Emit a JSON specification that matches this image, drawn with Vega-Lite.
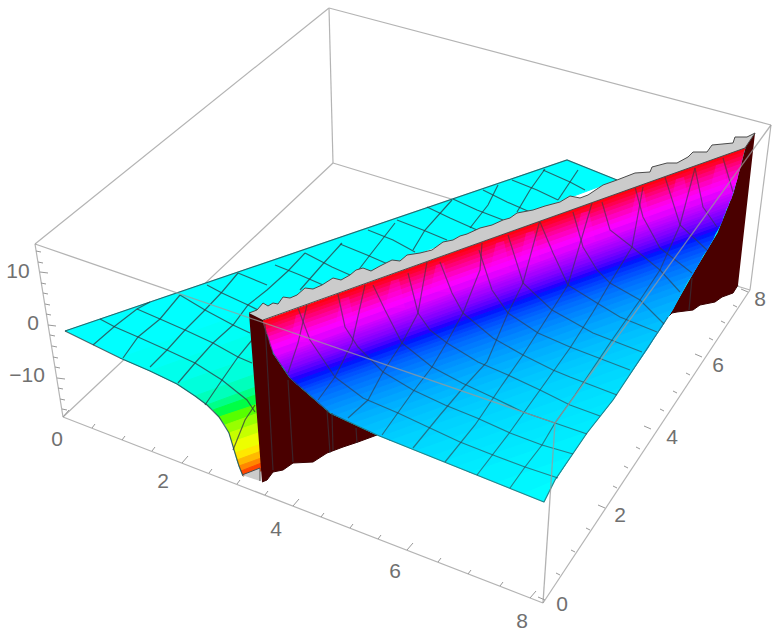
{"$schema":"https://vega.github.io/schema/vega-lite/v6.json","width":780,"height":637,"padding":0,"autosize":"none","background":"white","config":{"view":{"stroke":null}},
"datasets":{
"boxBack":[
{"id":"a","x":[35,329],"y":[244,8]},{"id":"b","x":[329,771],"y":[8,125]},{"id":"c","x":[329,333],"y":[8,163]},{"id":"d","x":[333,63],"y":[163,417]},{"id":"e","x":[333,750],"y":[163,290]},{"id":"f","x":[771,750],"y":[125,290]},{"id":"g","x":[35,63],"y":[244,417]},{"id":"h","x":[63,543],"y":[417,603]},{"id":"i","x":[543,750],"y":[603,290]}],
"boxFront":[{"id":"a","x":[35,555],"y":[244,423]},{"id":"b","x":[555,771],"y":[423,125]},{"id":"c","x":[555,543],"y":[423,603]}],
"leftFill":[
{"id":"b0","z":0,"x":[65,567,617,249,262,243,241,239,237,235,232,229,225,219,213,207,195,177,150,120],"y":[331,160,180,316,470,476,471,466,460,453,442,433,425,417,410,405,396,384,371,358]},
{"id":"q1","z":-0.35,"x":[120,256,256,150],"y":[358,309,333,371]},
{"id":"q2","z":-0.7,"x":[150,256,256,177],"y":[371,333,356,384]},
{"id":"q3","z":-1.15,"x":[177,256,256,195],"y":[384,356,374,396]},
{"id":"q4","z":-1.85,"x":[195,256,264,207],"y":[396,374,384,405]},
{"id":"q5","z":-2.75,"x":[207,264,264,213],"y":[405,384,392,410]},
{"id":"q6","z":-3.6,"x":[213,264,264,219],"y":[410,392,402,417]},
{"id":"q7","z":-4.5,"x":[219,264,264,225],"y":[417,402,411,425]},
{"id":"q8","z":-5.5,"x":[225,264,264,229],"y":[425,411,421,433]},
{"id":"q9","z":-6.5,"x":[229,264,264,232],"y":[433,421,431,442]},
{"id":"q10","z":-7.5,"x":[232,264,264,235],"y":[442,431,443,453]},
{"id":"q11","z":-8.5,"x":[235,264,264,237],"y":[453,443,450,460]},
{"id":"q12","z":-9.5,"x":[237,264,264,239],"y":[460,450,457,466]},
{"id":"q13","z":-10.5,"x":[239,264,264,241],"y":[466,457,462,471]},
{"id":"q14","z":-11.5,"x":[241,264,264,243],"y":[471,462,470,476]}],
"leftGrid":[
{"id":"e1","x":[65,567,617],"y":[331,160,180]},
{"id":"e2","x":[65,120,150,177,195,207,219,229,235,239,243],"y":[331,358,371,384,396,405,417,433,453,466,476]},
{"id":"a","x":[100,115,138,167,195,222,247,255],"y":[319,327,337,350,363,380,400,412]},
{"id":"b","x":[137,160,185,213,238,252],"y":[309,319,330,343,357,363]},
{"id":"c","x":[180,205,233,250],"y":[295,310,325,333]},
{"id":"d","x":[207,222,248,262],"y":[285,293,305,312]},
{"id":"e","x":[238,267],"y":[273,285]},
{"id":"e3","x":[275,300,323],"y":[265,275,285]},
{"id":"f","x":[305,332,350],"y":[253,267,275]},
{"id":"g","x":[340,367,390],"y":[244,255,265]},
{"id":"h","x":[368,393,415],"y":[230,240,252]},
{"id":"i","x":[397,423,447],"y":[220,230,240]},
{"id":"j","x":[427,450,477],"y":[207,218,230]},
{"id":"k","x":[453,477,503],"y":[199,210,220]},
{"id":"l","x":[483,507,530],"y":[190,202,212]},
{"id":"m","x":[512,537,558],"y":[180,190,200]},
{"id":"n","x":[543,570,585],"y":[170,182,190]},
{"id":"p","x":[93,115,137,150],"y":[345,326,309,302]},
{"id":"q","x":[123,138,160,180],"y":[358,337,319,295]},
{"id":"r","x":[150,167,185,203,222,238],"y":[367,350,330,312,292,273]},
{"id":"s","x":[178,195,213,233,248,267,288,305],"y":[383,363,343,325,305,290,271,253]},
{"id":"t","x":[205,222,238,252],"y":[405,380,357,340]},
{"id":"t2","x":[300,322,342],"y":[290,265,243]},
{"id":"u","x":[233,245,255],"y":[450,420,405]},
{"id":"u2","x":[357,370,395],"y":[272,255,223]},
{"id":"v","x":[413,425,452],"y":[250,230,200]},
{"id":"w","x":[470,488,498],"y":[228,205,185]},
{"id":"x","x":[517,530,545],"y":[212,190,169]},
{"id":"y","x":[558,570,578],"y":[200,182,170]}],
"walls":[
{"id":"w1","x":[249,263,273,290,330,377,358,343,327,313,293,283,273,267,262],"y":[313,320,353,378,413,435,442,447,453,462,463,470,472,480,482]},
{"id":"w2","x":[755,745,733,717,693,668,672,677,685,693,700,715,722,733,738],"y":[133,148,193,233,273,317,313,312,311,310,305,302,297,293,285]}],
"rightFill":[
{"id":"b","z":0.05,"x":[263,745,733,717,693,668,613,587,555,544,377,330,290,273],"y":[322,148,193,233,273,317,400,433,480,502,435,413,378,353]},
{"id":"r1","z":0.2,"x":[523,556,571,496],"y":[493,479,456,482]},
{"id":"r2","z":0.36,"x":[496,571,588,469],"y":[482,456,431,472]},
{"id":"r3","z":0.5,"x":[469,588,600,456],"y":[472,431,416,466]},
{"id":"r3b","z":0.6,"x":[456,600,612,443],"y":[466,416,401,461]},
{"id":"r4","z":0.7,"x":[443,612,621,430],"y":[461,401,387,456]},
{"id":"r4b","z":0.81,"x":[430,621,630,416],"y":[456,387,374,450]},
{"id":"r5","z":0.94,"x":[416,630,639,403],"y":[450,374,361,445]},
{"id":"r5b","z":1.06,"x":[403,639,648,389],"y":[445,361,348,440]},
{"id":"r6","z":1.19,"x":[389,648,654,380],"y":[440,348,338,436]},
{"id":"r6b","z":1.32,"x":[380,654,661,370],"y":[436,338,328,432]},
{"id":"r7","z":1.47,"x":[370,661,667,361],"y":[432,328,318,427]},
{"id":"r7b","z":1.63,"x":[361,667,673,352],"y":[427,318,309,423]},
{"id":"r8","z":1.81,"x":[352,673,678,343],"y":[423,309,299,419]},
{"id":"r8b","z":2.0,"x":[343,678,683,334],"y":[419,299,290,415]},
{"id":"r9","z":2.2,"x":[334,683,687,328],"y":[415,290,282,411]},
{"id":"r9b","z":2.4,"x":[328,687,692,323],"y":[411,282,275,407]},
{"id":"r10","z":2.6,"x":[323,692,696,318],"y":[407,275,268,403]},
{"id":"r10b","z":2.8,"x":[318,696,700,314],"y":[403,268,261,399]},
{"id":"r11","z":3.0,"x":[314,700,703,310],"y":[399,261,255,395]},
{"id":"r11b","z":3.2,"x":[310,703,707,306],"y":[395,255,250,392]},
{"id":"r12","z":3.4,"x":[306,707,710,303],"y":[392,250,244,389]},
{"id":"r12b","z":3.6,"x":[303,710,713,300],"y":[389,244,239,387]},
{"id":"r13","z":3.78,"x":[300,713,715,296],"y":[387,239,234,384]},
{"id":"r13b","z":3.93,"x":[296,715,718,293],"y":[384,234,229,381]},
{"id":"r14","z":4.1,"x":[293,718,720,290],"y":[381,229,225,378]},
{"id":"r14b","z":4.35,"x":[290,720,722,288],"y":[378,225,221,375]},
{"id":"r15","z":4.65,"x":[288,722,723,286],"y":[375,221,217,372]},
{"id":"r15b","z":4.95,"x":[286,723,725,285],"y":[372,217,213,370]},
{"id":"r16","z":5.25,"x":[285,725,726,283],"y":[370,213,209,367]},
{"id":"r16b","z":5.55,"x":[283,726,728,281],"y":[367,209,206,365]},
{"id":"r17","z":5.85,"x":[281,728,729,279],"y":[365,206,202,362]},
{"id":"r17b","z":6.15,"x":[279,729,731,278],"y":[362,202,199,360]},
{"id":"r18","z":6.45,"x":[278,731,732,276],"y":[360,199,195,358]},
{"id":"r18b","z":6.75,"x":[276,732,733,275],"y":[358,195,192,356]},
{"id":"r19","z":7.25,"x":[275,733,735,272],"y":[356,192,185,350]},
{"id":"r20","z":7.85,"x":[272,735,737,270],"y":[350,185,179,345]},
{"id":"r21","z":8.4,"x":[270,737,738,269],"y":[345,179,174,341]},
{"id":"r22","z":9.0,"x":[269,738,740,268],"y":[341,174,168,336]},
{"id":"r23","z":9.6,"x":[268,740,741,266],"y":[336,168,163,333]},
{"id":"r24","z":10.2,"x":[266,741,742,265],"y":[333,163,159,329]},
{"id":"r25","z":10.85,"x":[265,742,743,264],"y":[329,159,155,326]},
{"id":"r26","z":11.45,"x":[264,743,744,263],"y":[326,155,151,323]},
{"id":"r27","z":11.85,"x":[263,744,745,263],"y":[323,151,148,321]}],
"streaks":[
{"id":"s1","x":[296,304,308,290],"y":[315,313,342,342]},
{"id":"s2","x":[341,349,355,335],"y":[299,297,326,326]},
{"id":"s3","x":[391,399,405,385],"y":[281,279,308,308]},
{"id":"s4","x":[436,444,450,430],"y":[265,263,292,292]},
{"id":"s5","x":[496,504,510,490],"y":[243,241,270,270]},
{"id":"s6","x":[526,534,540,520],"y":[233,231,260,260]},
{"id":"s7","x":[581,589,595,575],"y":[213,211,240,240]},
{"id":"s8","x":[636,644,650,630],"y":[193,191,220,220]},
{"id":"s9","x":[676,684,690,670],"y":[179,177,206,206]},
{"id":"s10","x":[716,724,728,710],"y":[165,163,190,190]}],
"rightGrid":[
{"id":"e1","x":[377,544,555,587,613,668],"y":[435,502,480,433,400,317]},
{"id":"e2","x":[263,273,290,330,377],"y":[322,353,378,413,435]},
{"id":"y1","x":[288,298,307],"y":[373,343,305]},
{"id":"y2","x":[318,335,352,365],"y":[400,377,343,285]},
{"id":"y3","x":[348,368,383,402,418,427],"y":[418,400,372,343,313,262]},
{"id":"y4","x":[382,412,432,447,463,480,482],"y":[435,393,367,342,313,270,243]},
{"id":"y5","x":[413,440,463,487,508,523,540],"y":[448,415,388,362,313,283,220]},
{"id":"y6","x":[445,475,500,523,552,568,592],"y":[462,425,388,355,310,285,203]},
{"id":"y7","x":[477,510,540,570,593,610,632,643],"y":[475,432,390,348,312,283,247,187]},
{"id":"y8","x":[510,525,542,555,575,612,640,660,680,695],"y":[488,467,445,423,395,340,300,270,225,168]},
{"id":"x1","x":[298,310,335,363,398,430,460,493,525,558],"y":[308,340,377,398,413,428,442,455,467,478]},
{"id":"x2","x":[337,345,358,383,413,445,477,510,542,573],"y":[290,327,347,372,390,405,418,433,445,454]},
{"id":"x3","x":[373,385,402,432,462,492,523,555,587],"y":[285,310,343,367,383,397,412,423,434]},
{"id":"x4","x":[408,418,430,447,478,508,540,570,600],"y":[273,313,330,343,362,375,390,405,416]},
{"id":"x5","x":[440,452,463,493,523,553,570,617],"y":[262,293,313,338,355,370,377,395]},
{"id":"x6","x":[479,492,508,538,570,630],"y":[250,290,313,333,347,370]},
{"id":"x7","x":[508,523,552,593,642],"y":[235,283,310,333,352]},
{"id":"x8","x":[540,553,568,597,620,657],"y":[222,253,285,303,317,332]},
{"id":"x9","x":[573,583,597,610,640,664],"y":[212,247,270,283,300,324]},
{"id":"x10","x":[602,610,632,660,680],"y":[202,230,247,270,292]},
{"id":"x11","x":[635,643,660,692],"y":[187,217,248,273]},
{"id":"x12","x":[665,680,707],"y":[177,225,250]},
{"id":"x13","x":[695,703,717],"y":[168,207,227]},
{"id":"x14","x":[723,733],"y":[158,192]},
{"id":"v1","x":[265,273],"y":[323,470]},
{"id":"v2","x":[288,293],"y":[380,462]},
{"id":"v3","x":[327,330],"y":[410,453]},
{"id":"v4","x":[332,333],"y":[413,450]},
{"id":"v5","x":[356,357],"y":[428,443]},
{"id":"v6","x":[692,689],"y":[278,310]}],
"gray":[
{"id":"top","x":[249,257,263,268,273,278,283,290,297,305,313,322,333,341,350,356,363,371,380,392,400,407,420,432,443,453,460,467,480,492,503,510,517,533,545,560,570,580,588,603,617,635,650,652,667,677,688,693,707,712,733,735,747,755,745,263],"y":[313,310,303,306,303,304,297,298,295,288,289,285,278,280,275,270,268,271,266,260,261,255,253,250,242,240,236,234,228,225,220,218,213,210,206,202,196,198,195,185,180,173,172,167,163,163,157,152,152,145,143,137,137,133,148,320]},
{"id":"foot","x":[242,260,260],"y":[475,468,481]}],
"ticks":[
{"id":"x0","x":[63,69],"y":[417,410]},{"id":"x1","x":[92,95],"y":[428,424]},{"id":"x2","x":[122,125],"y":[440,436]},{"id":"x3","x":[152,155],"y":[451,447]},{"id":"x4","x":[182,188],"y":[463,456]},{"id":"x5","x":[209,212],"y":[473,469]},{"id":"x6","x":[237,240],"y":[484,480]},{"id":"x7","x":[265,268],"y":[495,491]},{"id":"x8","x":[293,299],"y":[506,499]},{"id":"x9","x":[321,324],"y":[517,513]},{"id":"x10","x":[350,353],"y":[528,524]},{"id":"x11","x":[378,381],"y":[539,535]},{"id":"x12","x":[407,413],"y":[550,543]},{"id":"x13","x":[438,441],"y":[562,558]},{"id":"x14","x":[468,471],"y":[574,570]},{"id":"x15","x":[500,503],"y":[586,582]},{"id":"x16","x":[530,536],"y":[598,591]},
{"id":"y0","x":[545,538],"y":[600,597]},{"id":"y1","x":[560,556],"y":[575,573]},{"id":"y2","x":[575,571],"y":[552,550]},{"id":"y3","x":[590,586],"y":[530,528]},{"id":"y4","x":[605,598],"y":[508,505]},{"id":"y5","x":[617,613],"y":[488,486]},{"id":"y6","x":[628,624],"y":[468,466]},{"id":"y7","x":[640,636],"y":[449,447]},{"id":"y8","x":[651,644],"y":[429,426]},{"id":"y9","x":[664,660],"y":[411,409]},{"id":"y10","x":[677,673],"y":[393,391]},{"id":"y11","x":[690,686],"y":[375,373]},{"id":"y12","x":[702,695],"y":[357,354]},{"id":"y13","x":[713,709],"y":[340,338]},{"id":"y14","x":[725,721],"y":[323,321]},{"id":"y15","x":[737,733],"y":[307,305]},{"id":"y16","x":[748,741],"y":[292,289]},
{"id":"z0","x":[36,41],"y":[251,252]},{"id":"z1","x":[38,43],"y":[262,263]},{"id":"z2","x":[40,48],"y":[272,273]},{"id":"z3","x":[41,46],"y":[283,284]},{"id":"z4","x":[43,48],"y":[293,294]},{"id":"z5","x":[45,50],"y":[304,305]},{"id":"z6","x":[46,51],"y":[314,315]},{"id":"z7","x":[48,56],"y":[325,326]},{"id":"z8","x":[50,55],"y":[335,336]},{"id":"z9","x":[52,57],"y":[346,347]},{"id":"z10","x":[53,58],"y":[357,358]},{"id":"z11","x":[55,60],"y":[367,368]},{"id":"z12","x":[57,65],"y":[378,379]},{"id":"z13","x":[58,63],"y":[388,389]},{"id":"z14","x":[60,65],"y":[399,400]},{"id":"z15","x":[62,67],"y":[409,410]}],
"labels":[
{"t":"0","x":57,"y":440},{"t":"2","x":163,"y":482},{"t":"4","x":276,"y":530},{"t":"6","x":395,"y":572},{"t":"8","x":522,"y":622},
{"t":"0","x":562,"y":605},{"t":"2","x":620,"y":516},{"t":"4","x":672,"y":438},{"t":"6","x":718,"y":366},{"t":"8","x":760,"y":300},
{"t":"10","x":18,"y":272},{"t":"0","x":33,"y":324},{"t":"−10","x":27,"y":376}]
},
"layer":[
{"data":{"name":"boxBack"},"transform":[{"flatten":["x","y"]}],"mark":{"type":"line","strokeWidth":1.2},"encoding":{"x":{"field":"x","type":"quantitative","scale":{"domain":[0,780]},"axis":null},"y":{"field":"y","type":"quantitative","scale":{"domain":[637,0]},"axis":null},"detail":{"field":"id"},"order":{"value":null},"color":{"value":"#b4b4b4"}}},
{"data":{"name":"leftFill"},"transform":[{"flatten":["x","y"]}],"mark":{"type":"line","strokeWidth":1},"encoding":{"x":{"field":"x","type":"quantitative","scale":{"domain":[0,780]},"axis":null},"y":{"field":"y","type":"quantitative","scale":{"domain":[637,0]},"axis":null},"detail":{"field":"id"},"order":{"value":null},
"fill":{"field":"z","type":"quantitative","legend":null,"scale":{"domain":[-12,-8,-4,0,4,8,12],"range":["#ff0000","#ffff00","#00ff00","#00ffff","#0000ff","#ff00ff","#ff0000"]}},
"stroke":{"field":"z","type":"quantitative","legend":null,"scale":{"domain":[-12,-8,-4,0,4,8,12],"range":["#ff0000","#ffff00","#00ff00","#00ffff","#0000ff","#ff00ff","#ff0000"]}}}},
{"data":{"name":"leftGrid"},"transform":[{"flatten":["x","y"]}],"mark":{"type":"line","strokeWidth":1.2,"opacity":0.75},"encoding":{"x":{"field":"x","type":"quantitative","scale":{"domain":[0,780]},"axis":null},"y":{"field":"y","type":"quantitative","scale":{"domain":[637,0]},"axis":null},"detail":{"field":"id"},"order":{"value":null},"color":{"value":"#2f3a40"}}},
{"data":{"name":"walls"},"transform":[{"flatten":["x","y"]}],"mark":{"type":"line","strokeWidth":1},"encoding":{"x":{"field":"x","type":"quantitative","scale":{"domain":[0,780]},"axis":null},"y":{"field":"y","type":"quantitative","scale":{"domain":[637,0]},"axis":null},"detail":{"field":"id"},"order":{"value":null},"fill":{"value":"#4a0000"},"stroke":{"value":"#3a0000"}}},
{"data":{"name":"rightFill"},"transform":[{"flatten":["x","y"]}],"mark":{"type":"line","strokeWidth":1},"encoding":{"x":{"field":"x","type":"quantitative","scale":{"domain":[0,780]},"axis":null},"y":{"field":"y","type":"quantitative","scale":{"domain":[637,0]},"axis":null},"detail":{"field":"id"},"order":{"value":null},
"fill":{"field":"z","type":"quantitative","legend":null,"scale":{"domain":[-12,-8,-4,0,4,8,12],"range":["#ff0000","#ffff00","#00ff00","#00ffff","#0000ff","#ff00ff","#ff0000"]}},
"stroke":{"field":"z","type":"quantitative","legend":null,"scale":{"domain":[-12,-8,-4,0,4,8,12],"range":["#ff0000","#ffff00","#00ff00","#00ffff","#0000ff","#ff00ff","#ff0000"]}}}},
{"data":{"name":"streaks"},"transform":[{"flatten":["x","y"]}],"mark":{"type":"line","strokeWidth":0,"opacity":0.3},"encoding":{"x":{"field":"x","type":"quantitative","scale":{"domain":[0,780]},"axis":null},"y":{"field":"y","type":"quantitative","scale":{"domain":[637,0]},"axis":null},"detail":{"field":"id"},"order":{"value":null},"fill":{"value":"#ff00ff"}}},
{"data":{"name":"rightGrid"},"transform":[{"flatten":["x","y"]}],"mark":{"type":"line","strokeWidth":1.2,"opacity":0.6},"encoding":{"x":{"field":"x","type":"quantitative","scale":{"domain":[0,780]},"axis":null},"y":{"field":"y","type":"quantitative","scale":{"domain":[637,0]},"axis":null},"detail":{"field":"id"},"order":{"value":null},"color":{"value":"#333a44"}}},
{"data":{"name":"gray"},"transform":[{"flatten":["x","y"]}],"mark":{"type":"line","strokeWidth":1},"encoding":{"x":{"field":"x","type":"quantitative","scale":{"domain":[0,780]},"axis":null},"y":{"field":"y","type":"quantitative","scale":{"domain":[637,0]},"axis":null},"detail":{"field":"id"},"order":{"value":null},"fill":{"value":"#cbcbcb"},"stroke":{"value":"#4a4a4a"}}},
{"data":{"name":"boxFront"},"transform":[{"flatten":["x","y"]}],"mark":{"type":"line","strokeWidth":1.3,"opacity":0.75},"encoding":{"x":{"field":"x","type":"quantitative","scale":{"domain":[0,780]},"axis":null},"y":{"field":"y","type":"quantitative","scale":{"domain":[637,0]},"axis":null},"detail":{"field":"id"},"order":{"value":null},"color":{"value":"#9a9a9a"}}},
{"data":{"name":"ticks"},"transform":[{"flatten":["x","y"]}],"mark":{"type":"line","strokeWidth":1},"encoding":{"x":{"field":"x","type":"quantitative","scale":{"domain":[0,780]},"axis":null},"y":{"field":"y","type":"quantitative","scale":{"domain":[637,0]},"axis":null},"detail":{"field":"id"},"order":{"value":null},"color":{"value":"#999999"}}},
{"data":{"name":"labels"},"mark":{"type":"text","font":"Liberation Sans","fontSize":21,"align":"center","baseline":"middle"},"encoding":{"x":{"field":"x","type":"quantitative","scale":{"domain":[0,780]},"axis":null},"y":{"field":"y","type":"quantitative","scale":{"domain":[637,0]},"axis":null},"text":{"field":"t"},"color":{"value":"#707070"}}}
]}
